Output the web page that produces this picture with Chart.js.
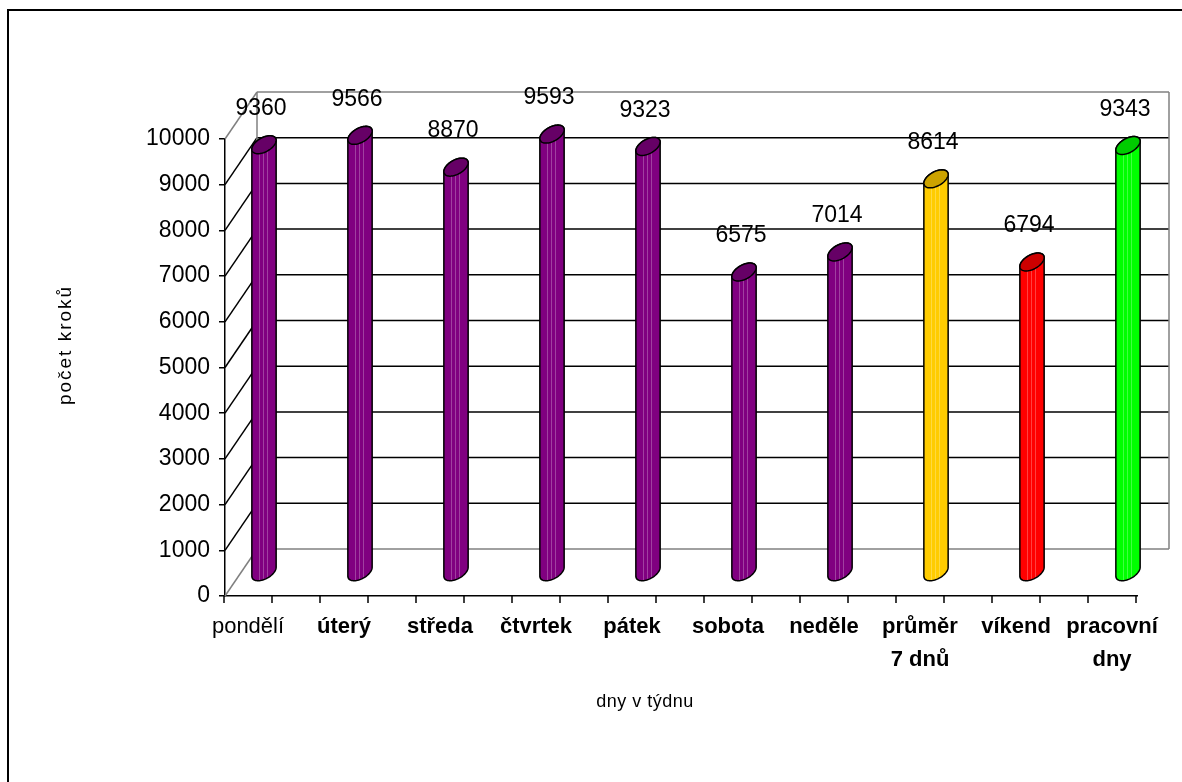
<!DOCTYPE html>
<html>
<head>
<meta charset="utf-8">
<title>Počet kroků podle dnů v týdnu</title>
<style>
  html, body { margin: 0; padding: 0; background: #fff; }
  #wrap { width: 1182px; height: 782px; position: relative; }
  canvas { display: block; }
</style>
<script src="https://cdn.jsdelivr.net/npm/chart.js@4.4.1/dist/chart.umd.min.js"></script>
</head>
<body>
<div id="wrap"><canvas id="chart" width="1182" height="782"></canvas></div>
<script>
// ---- data ----
const categories = [
  ['pondělí'], ['úterý'], ['středa'], ['čtvrtek'], ['pátek'],
  ['sobota'], ['neděle'], ['průměr', '7 dnů'], ['víkend'], ['pracovní', 'dny']
];
const steps = [9360, 9566, 8870, 9593, 9323, 6575, 7014, 8614, 6794, 9343];
const yTicks = [0, 1000, 2000, 3000, 4000, 5000, 6000, 7000, 8000, 9000, 10000];
const yTitle = 'počet kroků';
const xTitle = 'dny v týdnu';

// ---- styling ----
const FONT = '"Liberation Sans", Arial, sans-serif';
const barColors = ['#800080', '#800080', '#800080', '#800080', '#800080',
                   '#800080', '#800080', '#FFCC00', '#FF0000', '#00FF00'];
const DEPTH_X = 32;    // offset of the back wall from the front plane
const DEPTH_Y = -47;
const WALL_EDGE = '#808080';

function darken(hex, f) {
  const n = parseInt(hex.slice(1), 16);
  const r = Math.round(((n >> 16) & 255) * f);
  const g = Math.round(((n >> 8) & 255) * f);
  const b = Math.round((n & 255) * f);
  return `rgb(${r},${g},${b})`;
}

function seg(ctx, x1, y1, x2, y2) {
  ctx.beginPath();
  ctx.moveTo(x1, y1);
  ctx.lineTo(x2, y2);
  ctx.stroke();
}

// Cylinder seen in oblique projection: cross-section ellipse spanned by
// (r, 0) and a skew vector pointing into the depth.
function cylinder(ctx, cx, topY, botY, r, color) {
  const sx = 6, sy = -9;
  const ex = Math.hypot(r, sx);
  const t0 = Math.atan2(sx, r);
  const pt = (cy, t) => [cx + r * Math.cos(t) + sx * Math.sin(t), cy + sy * Math.sin(t)];
  const N = 32;

  const body = new Path2D();
  body.moveTo(...pt(topY, t0));
  body.lineTo(...pt(botY, t0));
  for (let k = 1; k <= N; k++) body.lineTo(...pt(botY, t0 - Math.PI * k / N));
  body.lineTo(...pt(topY, t0 - Math.PI));
  for (let k = 1; k <= N; k++) body.lineTo(...pt(topY, t0 + Math.PI - Math.PI * k / N));
  body.closePath();

  ctx.fillStyle = color;
  ctx.fill(body);

  // faint facet stripes
  ctx.save();
  ctx.clip(body);
  ctx.strokeStyle = 'rgba(255,255,255,0.25)';
  ctx.lineWidth = 1;
  [-0.45, -0.1, 0.25].forEach(f => {
    const x = Math.round(cx + f * ex) + 0.5;
    seg(ctx, x, topY - 12, x, botY + 12);
  });
  ctx.restore();

  ctx.strokeStyle = '#000';
  ctx.lineWidth = 1.5;
  ctx.lineJoin = 'round';
  ctx.stroke(body);

  const top = new Path2D();
  for (let k = 0; k <= 2 * N; k++) {
    const p = pt(topY, Math.PI * k / N);
    if (k === 0) top.moveTo(...p); else top.lineTo(...p);
  }
  top.closePath();
  ctx.fillStyle = darken(color, 0.8);
  ctx.fill(top);
  ctx.stroke(top);
}

const frame3d = {
  id: 'frame3d',
  beforeDraw(chart) {
    const ctx = chart.ctx;
    ctx.save();
    ctx.fillStyle = '#fff';
    ctx.fillRect(0, 0, chart.width, chart.height);
    ctx.strokeStyle = '#000';
    ctx.lineWidth = 2;
    ctx.strokeRect(8, 10, chart.width + 20, chart.height + 20);
    ctx.restore();
  },
  beforeDatasetsDraw(chart) {
    const { ctx, chartArea: a, scales: { x, y } } = chart;
    ctx.save();
    ctx.lineWidth = 1.5;
    const bl = a.left + DEPTH_X, br = a.right + DEPTH_X;
    const last = yTicks.length - 1;
    yTicks.forEach((v, i) => {
      const yf = y.getPixelForValue(v);
      const yb = yf + DEPTH_Y;
      ctx.strokeStyle = (i === 0 || i === last) ? WALL_EDGE : '#000';
      seg(ctx, bl, yb, br, yb);          // back wall line
      seg(ctx, a.left, yf, bl, yb);      // side wall line
    });
    const wTop = y.getPixelForValue(yTicks[last]) + DEPTH_Y;
    const wBot = y.getPixelForValue(yTicks[0]) + DEPTH_Y;
    ctx.strokeStyle = WALL_EDGE;
    seg(ctx, bl, wTop, bl, wBot);
    seg(ctx, br, wTop, br, wBot);

    // category axis tick marks
    ctx.strokeStyle = '#000';
    for (let k = 0; k <= 2 * categories.length - 1; k++) {
      const px = x.getPixelForValue(-0.25 + 0.5 * k);
      seg(ctx, px, a.bottom, px, a.bottom + 7);
    }
    ctx.restore();
  },
  afterDatasetsDraw(chart) {
    const ctx = chart.ctx;
    const meta = chart.getDatasetMeta(0);
    ctx.save();
    meta.data.forEach((el, i) => {
      const cx = el.x + DEPTH_X / 2;
      const topY = el.y + DEPTH_Y / 2;
      const botY = el.base + DEPTH_Y / 2;
      cylinder(ctx, cx, topY, botY, el.width / 2, barColors[i]);
    });
    ctx.fillStyle = '#000';
    ctx.font = `23px ${FONT}`;
    ctx.textAlign = 'center';
    ctx.textBaseline = 'middle';
    meta.data.forEach((el, i) => {
      const cx = el.x + DEPTH_X / 2 - 3;
      const topY = el.y + DEPTH_Y / 2;
      ctx.fillText(String(steps[i]), cx, topY - 36);
    });
    ctx.restore();
  },
  afterDraw(chart) {
    const ctx = chart.ctx;
    ctx.save();
    ctx.fillStyle = '#000';
    ctx.textAlign = 'center';
    ctx.textBaseline = 'middle';
    ctx.font = `18px ${FONT}`;
    try { ctx.letterSpacing = '0.5px'; } catch (e) {}
    ctx.fillText(xTitle, 645, 702);
    ctx.font = `19px ${FONT}`;
    try { ctx.letterSpacing = '2px'; } catch (e) {}
    ctx.translate(66, 345);
    ctx.rotate(-Math.PI / 2);
    ctx.fillText(yTitle, 0, 0);
    ctx.restore();
  }
};

new Chart(document.getElementById('chart'), {
  type: 'bar',
  data: {
    datasets: [{
      data: steps.map((v, i) => ({ x: i, y: v })),
      backgroundColor: 'rgba(0,0,0,0)',
      borderWidth: 0,
      barPercentage: 0.22,
      categoryPercentage: 1
    }]
  },
  options: {
    responsive: false,
    animation: false,
    devicePixelRatio: 1,
    layout: { padding: { top: 139, left: 10, right: 45, bottom: 10 } },
    plugins: {
      legend: { display: false },
      tooltip: { enabled: false },
      title: { display: false }
    },
    scales: {
      x: {
        type: 'linear',
        offset: false,
        min: -23 / 96,
        max: 9 + 25 / 96,
        afterBuildTicks(scale) {
          scale.ticks = categories.map((_, i) => ({ value: i }));
        },
        afterFit(scale) {
          scale.height = 176;
          scale.paddingLeft = 0;
          scale.paddingRight = 0;
        },
        grid: { display: false, offset: false, drawTicks: false, tickLength: 0 },
        border: { display: true, color: '#000', width: 1.5 },
        ticks: {
          autoSkip: false,
          maxRotation: 0,
          minRotation: 0,
          padding: 14,
          color: '#000',
          font: (c) => ({ family: FONT, size: 22, weight: c.index === 0 ? 'normal' : 'bold', lineHeight: 1.5 }),
          callback: (value, index) => categories[index]
        }
      },
      y: {
        min: yTicks[0],
        max: yTicks[yTicks.length - 1],
        afterBuildTicks(scale) {
          scale.ticks = yTicks.map(v => ({ value: v }));
        },
        afterFit(scale) {
          scale.width = 215;
        },
        grid: { drawOnChartArea: false, drawTicks: true, tickLength: 6, color: '#000', lineWidth: 1.5 },
        border: { display: true, color: '#000', width: 1.5 },
        ticks: {
          padding: 9,
          color: '#000',
          font: { family: FONT, size: 23 },
          callback: (v) => String(v)
        }
      }
    }
  },
  plugins: [frame3d]
});
</script>
</body>
</html>
